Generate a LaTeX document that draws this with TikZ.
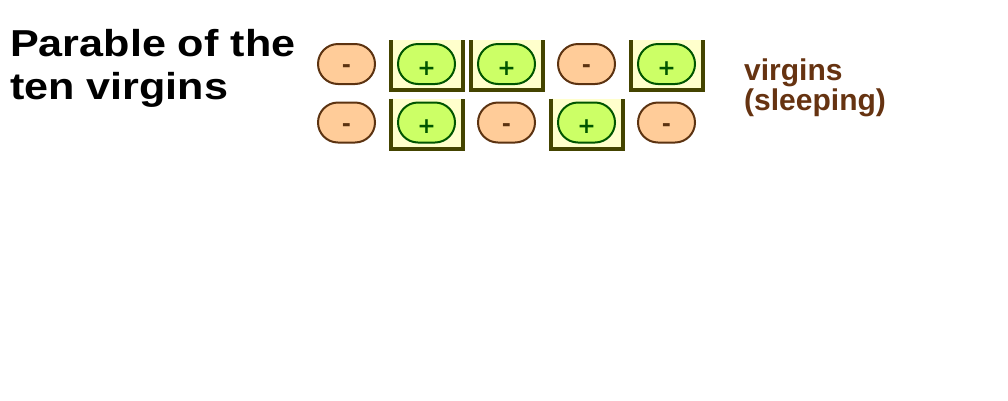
\documentclass[tikz,border=0pt]{standalone}
\usepackage{fontspec}
\setsansfont{Liberation Sans}
\newfontfamily\signfont{DejaVu Sans}
\usetikzlibrary{calc}
\definecolor{foolfill}{HTML}{FFCC99}
\definecolor{fooldraw}{HTML}{5C3311}
\definecolor{wisefill}{HTML}{CCFF66}
\definecolor{wisedraw}{HTML}{005500}
\definecolor{lampfill}{HTML}{FFFFCC}
\definecolor{lampdraw}{HTML}{444400}
\definecolor{labelbrown}{HTML}{663311}

\begin{document}
\begin{tikzpicture}[x=1pt,y=-1pt,every node/.style={font=\sffamily\bfseries}]
	\tikzset{
		virgin/.style={draw,line width=2pt,rounded corners=20pt,minimum width=57pt,minimum height=40pt,inner sep=0pt,text depth=0pt,font=\signfont\bfseries\fontsize{22}{22}\selectfont},
		foolish/.style={virgin,fill=foolfill,draw=fooldraw,text=fooldraw,text height=17.8pt},
		wise/.style={virgin,fill=wisefill,draw=wisedraw,text=wisedraw,text height=22.8pt},
		lamp/.style={draw=lampdraw,fill=lampfill,line width=4pt}
	}
	\useasboundingbox (0,0) rectangle (1008,400);
	
	\node[anchor=base west,align=left,inner sep=0pt,xscale=1.15,font=\sffamily\bfseries\fontsize{37.5}{43}\selectfont] (title) at (10,99) {Parable of the\\ten virgins};
	
	% lamps behind the wise ones
	\foreach \col/\y in {2/64,3/64,5/64,2/122.5,4/122.5}
		\draw[lamp] ({266.5+80*\col-36},\y-24) -- ++(0,50) -- ++(72,0) -- ++(0,-50);
	
	% first row
	\foreach \col/\kind/\sign in {1/foolish/-,2/wise/+,3/wise/+,4/foolish/-,5/wise/+}
		\node[\kind] (top\col) at ({266.5+80*\col},64) {\sign};
	% second row
	\foreach \col/\kind/\sign in {1/foolish/-,2/wise/+,3/foolish/-,4/wise/+,5/foolish/-}
		\node[\kind] (bot\col) at ({266.5+80*\col},122.5) {\sign};
	
	\node[anchor=base west,align=left,inner sep=0pt,text=labelbrown,font=\sffamily\bfseries\fontsize{30}{28}\selectfont] (sleeping) at (744,110) {virgins\\(sleeping)};
\end{tikzpicture}
\end{document}
